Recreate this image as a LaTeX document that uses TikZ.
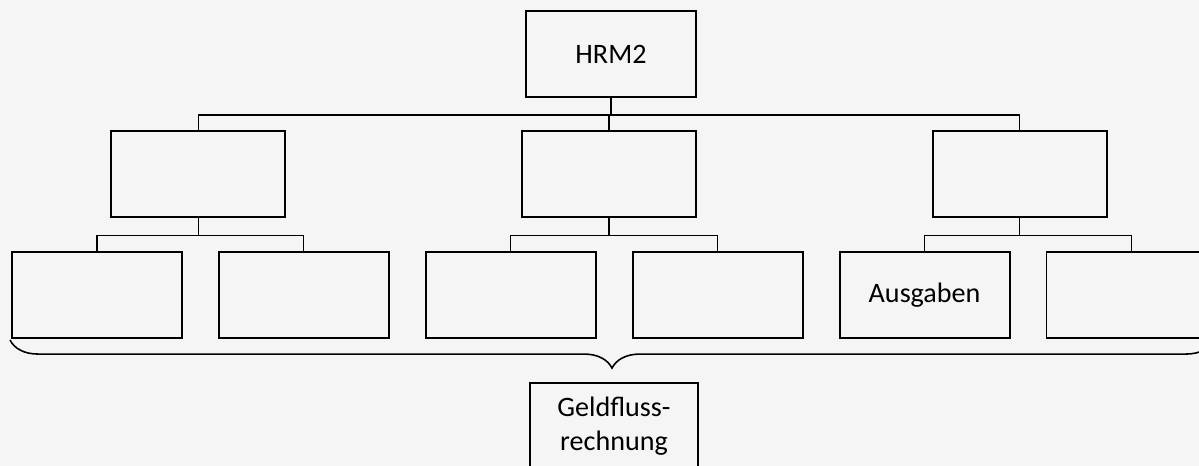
\documentclass[tikz,border=0pt]{standalone}
\usepackage{fontspec}
\setmainfont{Carlito}
\usetikzlibrary{positioning,decorations.pathreplacing}

\tikzset{
  box/.style={draw, rectangle, line width=1.1pt, minimum width=3.4cm, minimum height=1.72cm, align=center, font=\fontsize{16}{19}\selectfont},
  link/.style={line width=0.6pt}
}

\begin{document}
\begin{tikzpicture}[x=0.02cm, y=0.02cm]
\useasboundingbox[fill=black!4] (0,0) rectangle (1199,466);

\node[box] (hrm) at (611,412) {HRM2};

\node[box, minimum width=3.48cm] (midb) at (609,292) {};
\node[box, minimum width=3.48cm, left=4.7cm of midb] (mida) {};
\node[box, minimum width=3.48cm, right=4.7cm of midb] (midc) {};

\node[box] (leaf1) at (97,171) {};
\node[box, right=0.7cm of leaf1] (leaf2) {};
\node[box, right=0.7cm of leaf2] (leaf3) {};
\node[box, right=0.7cm of leaf3] (leaf4) {};
\node[box, right=0.7cm of leaf4] (leaf5) {Ausgaben};
\node[box, right=0.7cm of leaf5] (leaf6) {};

\node[box, minimum width=3.36cm] (geld) at (614,40) {Geldfluss-\\rechnung};

% first level
\coordinate (bar0) at (611,351);
\draw[link] (hrm.south) -- (bar0);
\draw[link] (mida.north) |- (bar0) -| (midc.north);
\draw[link] (midb.north) -- (midb.north |- bar0);

% second level
\draw[link] (leaf1.north) |- ([yshift=-0.36cm] mida.south) -| (leaf2.north);
\draw[link] (mida.south) -- ([yshift=-0.36cm] mida.south);
\draw[link] (leaf3.north) |- ([yshift=-0.36cm] midb.south) -| (leaf4.north);
\draw[link] (midb.south) -- ([yshift=-0.36cm] midb.south);
\draw[link] (leaf5.north) |- ([yshift=-0.36cm] midc.south) -| (leaf6.north);
\draw[link] (midc.south) -- ([yshift=-0.36cm] midc.south);

% brace
\coordinate (bl) at (10,126);
\coordinate (br) at (1214,126);
\draw[line width=0.9pt, decorate, decoration={brace, mirror, amplitude=16pt}] (bl) -- (br);
\end{tikzpicture}
\end{document}
